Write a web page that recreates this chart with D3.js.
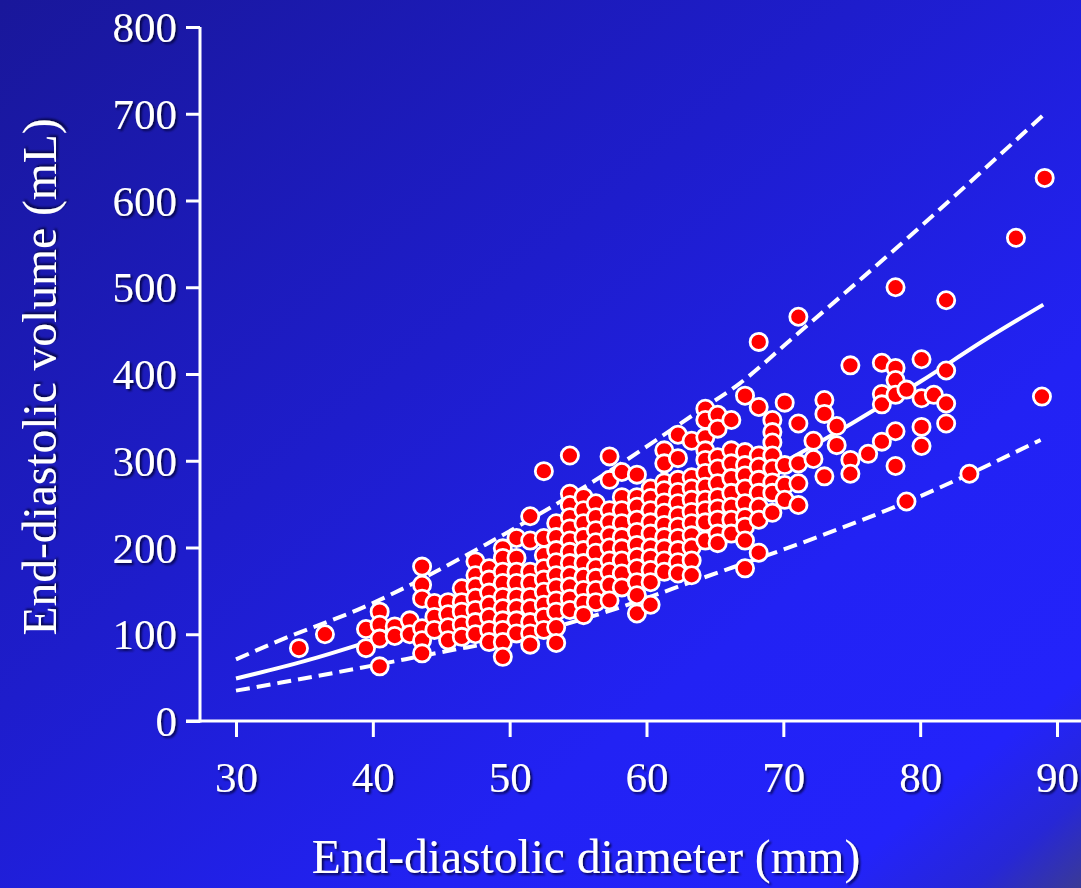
<!DOCTYPE html>
<html>
<head>
<meta charset="utf-8">
<script src="https://cdn.jsdelivr.net/npm/d3@7/dist/d3.min.js"></script>
<style>
  html, body { margin: 0; padding: 0; overflow: hidden; background: #1f1fd0; }
  svg { display: block; }
</style>
</head>
<body>
<svg id="chart" width="1081" height="888"></svg>
<script>
// Tick values
const xTickValues = [30, 40, 50, 60, 70, 80, 90];
const yTickValues = [0, 100, 200, 300, 400, 500, 600, 700, 800];

// Patients grouped by end-diastolic diameter (mm): [diameter, [volumes in mL]]
const patientsByDiameter = [
  [34.6, [84]],
  [36.5, [100]],
  [39.5, [106, 84]],
  [40.5, [126, 111, 95, 63]],
  [41.6, [109, 98]],
  [42.7, [116, 100]],
  [43.6, [178, 157, 141, 107, 93, 78]],
  [44.5, [136, 120, 105]],
  [45.5, [137, 123, 108, 93]],
  [46.5, [153, 137, 126, 111, 97]],
  [47.5, [184, 168, 155, 142, 128, 114, 100]],
  [48.5, [176, 163, 148, 134, 120, 105, 91]],
  [49.5, [199, 188, 172, 159, 143, 130, 116, 105, 91, 74]],
  [50.5, [211, 188, 172, 159, 143, 130, 116, 101]],
  [51.5, [236, 208, 172, 159, 143, 130, 114, 101, 88]],
  [52.5, [288, 211, 191, 176, 163, 149, 134, 120, 105]],
  [53.4, [228, 212, 197, 183, 168, 154, 139, 126, 108, 90]],
  [54.4, [306, 262, 249, 235, 222, 208, 195, 182, 168, 155, 141, 128]],
  [55.4, [258, 243, 228, 212, 197, 182, 166, 151, 136, 122]],
  [56.3, [251, 235, 220, 206, 194, 177, 165, 151, 137]],
  [57.3, [305, 278, 243, 229, 214, 200, 185, 172, 157, 139]],
  [58.2, [287, 258, 243, 228, 212, 199, 185, 170, 154]],
  [59.3, [284, 258, 247, 232, 218, 203, 189, 176, 160, 145, 124]],
  [60.3, [268, 257, 243, 229, 216, 200, 188, 174, 160, 134]],
  [61.3, [312, 297, 275, 266, 252, 240, 226, 212, 199, 185, 172]],
  [62.3, [330, 303, 278, 264, 251, 237, 224, 211, 197, 183, 170]],
  [63.3, [323, 281, 268, 255, 241, 228, 214, 200, 185, 168]],
  [64.3, [360, 347, 327, 312, 301, 286, 270, 255, 243, 229, 208]],
  [65.2, [353, 337, 304, 291, 274, 258, 245, 232, 216, 205]],
  [66.2, [347, 312, 297, 280, 263, 247, 232, 216]],
  [67.2, [375, 310, 295, 283, 268, 251, 235, 224, 208, 176]],
  [68.2, [437, 362, 306, 293, 278, 263, 247, 232, 194]],
  [69.2, [347, 333, 321, 306, 291, 275, 263, 240]],
  [70.1, [367, 295, 272, 255]],
  [71.1, [466, 343, 297, 274, 249]],
  [72.2, [323, 302]],
  [73.0, [370, 354, 282]],
  [73.9, [340, 318]],
  [74.9, [410, 301, 285]],
  [76.2, [308]],
  [77.2, [413, 377, 365, 322]],
  [78.2, [500, 407, 393, 376, 334, 294]],
  [79.0, [382, 253]],
  [80.1, [417, 372, 339, 317]],
  [81.0, [376]],
  [81.9, [485, 404, 366, 343]],
  [83.6, [285]],
  [87.0, [557]],
  [88.9, [374]],
  [89.1, [626]]
];

// Regression curve and its upper / lower limits
const fitDiameter   = [30, 35, 40, 45, 50, 55, 60, 65, 70, 75, 80, 85, 89];
const fitVolume     = [49, 69, 93, 119, 149, 181, 217, 256, 298, 343, 391, 442, 480];
const upperDiameter = [30, 33.2, 39.3, 48.2, 56.2, 63.9, 66.8, 70.5, 79.75, 89.1];
const upperVolume   = [71, 93, 131, 203, 277, 358, 389, 439, 566, 700];
const lowerDiameter = [30, 33.2, 38.7, 45.9, 48.6, 55.9, 64.3, 73, 78.8, 88.8];
const lowerVolume   = [35, 44, 60, 82, 90, 120, 166, 215, 251, 324];

const svg = d3.select("#chart");
const W = 1081, H = 888;

// Background
const defs = svg.append("defs");
const bg = defs.append("linearGradient").attr("id", "bg")
  .attr("x1", "0%").attr("y1", "0%").attr("x2", "100%").attr("y2", "100%");
[["0%", "#19179a"], ["40%", "#1e1dcc"], ["70%", "#2222f4"], ["88%", "#2323fb"], ["95%", "#2727d6"], ["100%", "#3a3a96"]]
  .forEach(([o, c]) => bg.append("stop").attr("offset", o).attr("stop-color", c));
svg.append("rect").attr("width", W).attr("height", H).attr("fill", "url(#bg)");

const shadow = defs.append("filter").attr("id", "shadow")
  .attr("x", "-10%").attr("y", "-10%").attr("width", "130%").attr("height", "140%");
shadow.append("feDropShadow").attr("dx", 2).attr("dy", 2).attr("stdDeviation", 1.2)
  .attr("flood-color", "#000030").attr("flood-opacity", 0.8);

// Scales
const x = d3.scaleLinear().domain([30, 90]).range([236, 1057]);
const y = d3.scaleLinear().domain([0, 800]).range([721, 27]);

const font = "'Liberation Serif', 'Times New Roman', serif";

// Axis lines
svg.append("line").attr("x1", 200).attr("x2", 200).attr("y1", y(800)).attr("y2", y(0) + 1.5)
  .attr("stroke", "#fff").attr("stroke-width", 3);
svg.append("line").attr("x1", 186).attr("x2", W).attr("y1", y(0)).attr("y2", y(0))
  .attr("stroke", "#fff").attr("stroke-width", 3);

// Y axis
const yAxis = svg.append("g").attr("transform", "translate(200,0)")
  .call(d3.axisLeft(y).tickValues(yTickValues).tickSize(14).tickPadding(9).tickSizeOuter(0));
yAxis.select(".domain").remove();
yAxis.selectAll(".tick line").attr("stroke", "#fff").attr("stroke-width", 3);
yAxis.selectAll(".tick text").attr("fill", "#fff").attr("font-family", font)
  .attr("font-size", 43).attr("filter", "url(#shadow)").attr("dy", "0.34em");

// X axis
const xAxis = svg.append("g").attr("transform", `translate(0,${y(0)})`)
  .call(d3.axisBottom(x).tickValues(xTickValues).tickSize(16).tickPadding(24).tickSizeOuter(0));
xAxis.select(".domain").remove();
xAxis.selectAll(".tick line").attr("stroke", "#fff").attr("stroke-width", 3);
xAxis.selectAll(".tick text").attr("fill", "#fff").attr("font-family", font)
  .attr("font-size", 43).attr("filter", "url(#shadow)");

// Axis titles
svg.append("text").attr("x", 586).attr("y", 873).attr("text-anchor", "middle")
  .attr("fill", "#fff").attr("font-family", font).attr("font-size", 47.5)
  .attr("filter", "url(#shadow)").text("End-diastolic diameter (mm)");
svg.append("text").attr("transform", "translate(56,377) rotate(-90)").attr("text-anchor", "middle")
  .attr("fill", "#fff").attr("font-family", font).attr("font-size", 47.5)
  .attr("filter", "url(#shadow)").text("End-diastolic volume (mL)");

// Curves
const curve = (xs, ys) => d3.line().curve(d3.curveMonotoneX)
  .x((d, i) => x(xs[i])).y((d, i) => y(ys[i]))(xs);
svg.append("path").attr("d", curve(fitDiameter, fitVolume))
  .attr("fill", "none").attr("stroke", "#fff").attr("stroke-width", 4);
svg.append("path").attr("d", curve(upperDiameter, upperVolume))
  .attr("fill", "none").attr("stroke", "#fff").attr("stroke-width", 4).attr("stroke-dasharray", "14,7");
svg.append("path").attr("d", curve(lowerDiameter, lowerVolume))
  .attr("fill", "none").attr("stroke", "#fff").attr("stroke-width", 4).attr("stroke-dasharray", "14,7");

// Patients
const points = patientsByDiameter.flatMap(([d, vols]) => vols.map(v => ({ d, v })));
svg.append("g").selectAll("circle").data(points).join("circle")
  .attr("cx", p => x(p.d)).attr("cy", p => y(p.v)).attr("r", 8.6)
  .attr("fill", "#ff0000").attr("stroke", "#fff").attr("stroke-width", 2.8);
</script>
</body>
</html>
